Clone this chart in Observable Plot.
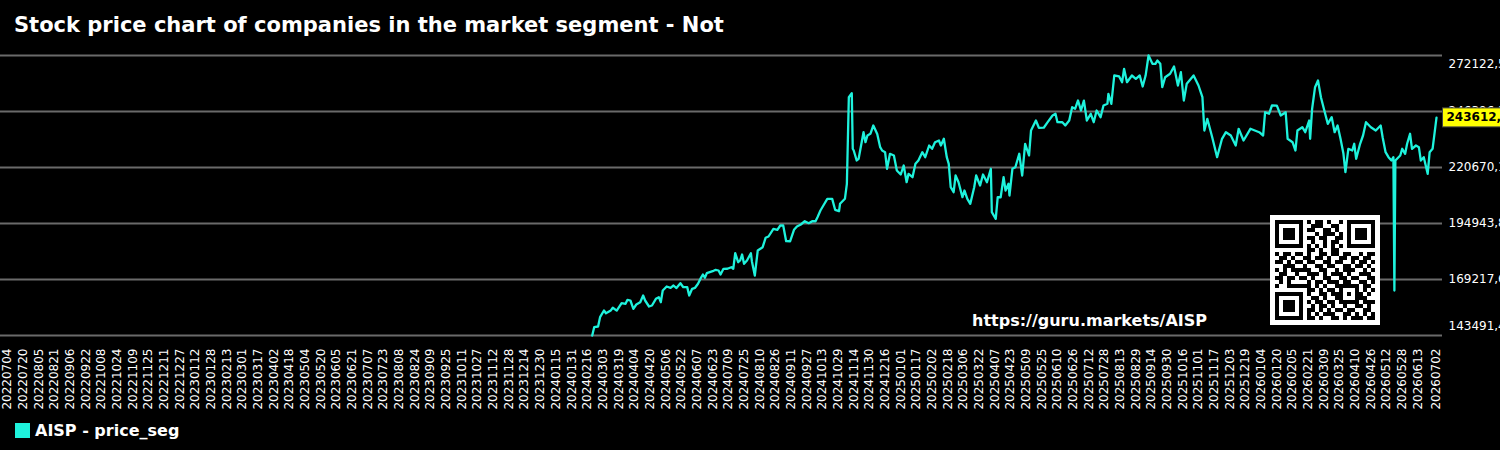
<!DOCTYPE html>
<html>
<head>
<meta charset="utf-8">
<script src="https://cdn.jsdelivr.net/npm/d3@7"></script>
<script src="https://cdn.jsdelivr.net/npm/@observablehq/plot@0.6"></script>
<style>
  html, body { margin: 0; padding: 0; background: #000; overflow: hidden; }
  #page { position: relative; width: 1500px; height: 450px; background: #000; color: #fff;
          font-family: "DejaVu Sans", sans-serif; }
  #title { position: absolute; left: 14px; top: 15px; font-size: 21px; line-height: 21px;
           font-weight: bold; white-space: nowrap; }
  #chart { position: absolute; left: 0; top: 40px; }
  #qr { position: absolute; left: 1270px; top: 215px; }
  #url { position: absolute; left: 972px; top: 312.5px; font-size: 16px; line-height: 16px;
         font-weight: bold; white-space: nowrap; }
  #legend { position: absolute; left: 15px; top: 422.5px; height: 16px; font-size: 16px; line-height: 16px;
            font-weight: bold; display: flex; align-items: center; white-space: nowrap; }
  #legend .swatch { width: 15px; height: 15px; margin-right: 5px; }
</style>
</head>
<body>
<div id="page">
  <div id="title"></div>
  <div id="chart"></div>
  <svg id="qr"></svg>
  <div id="url"></div>
  <div id="legend"><span class="swatch"></span><span class="name"></span></div>
</div>
<script>
// ---- chart text ----
const chartTitle = "Stock price chart of companies in the market segment - Not";
const seriesName = "AISP - price_seg";
const sourceUrl = "https://guru.markets/AISP";

// ---- time axis: labelled every 16 days from the first date, plus the final date ----
const axisStart = "2022-07-04";
const axisEnd = "2026-07-02";
const tickStepDays = 16;

// ---- closing prices ----
const dates = [
  "2024-02-21","2024-02-23","2024-02-27","2024-02-29","2024-03-04","2024-03-06","2024-03-11","2024-03-13","2024-03-17","2024-03-22",
  "2024-03-26","2024-03-28","2024-03-31","2024-04-03","2024-04-06","2024-04-10","2024-04-13","2024-04-15","2024-04-19","2024-04-22",
  "2024-04-26","2024-04-29","2024-05-01","2024-05-03","2024-05-07","2024-05-11","2024-05-14","2024-05-17","2024-05-21","2024-05-24",
  "2024-05-28","2024-05-30","2024-06-02","2024-06-05","2024-06-08","2024-06-11","2024-06-13","2024-06-15","2024-06-17","2024-06-23",
  "2024-06-26","2024-06-29","2024-07-01","2024-07-04","2024-07-08","2024-07-12","2024-07-14","2024-07-16","2024-07-19","2024-07-21",
  "2024-07-23","2024-07-25","2024-07-28","2024-08-01","2024-08-02","2024-08-05","2024-08-08","2024-08-13","2024-08-16","2024-08-19",
  "2024-08-24","2024-08-28","2024-08-31","2024-09-03","2024-09-06","2024-09-10","2024-09-14","2024-09-17","2024-09-21","2024-09-25",
  "2024-09-29","2024-10-03","2024-10-06","2024-10-08","2024-10-11","2024-10-14","2024-10-18","2024-10-23","2024-10-26","2024-10-30",
  "2024-10-31","2024-11-05","2024-11-07","2024-11-09","2024-11-12","2024-11-13","2024-11-14","2024-11-17","2024-11-19","2024-11-24",
  "2024-11-26","2024-11-28","2024-12-01","2024-12-04","2024-12-08","2024-12-11","2024-12-13","2024-12-16","2024-12-18","2024-12-21",
  "2024-12-25","2024-12-28","2025-01-01","2025-01-04","2025-01-07","2025-01-09","2025-01-13","2025-01-16","2025-01-19","2025-01-23",
  "2025-01-26","2025-01-30","2025-02-02","2025-02-05","2025-02-09","2025-02-11","2025-02-14","2025-02-17","2025-02-19","2025-02-21",
  "2025-02-24","2025-02-26","2025-03-01","2025-03-05","2025-03-07","2025-03-10","2025-03-13","2025-03-17","2025-03-19","2025-03-23",
  "2025-03-26","2025-03-30","2025-04-03","2025-04-04","2025-04-08","2025-04-10","2025-04-13","2025-04-16","2025-04-18","2025-04-21",
  "2025-04-22","2025-04-25","2025-04-28","2025-05-02","2025-05-05","2025-05-08","2025-05-12","2025-05-14","2025-05-19","2025-05-22",
  "2025-05-27","2025-05-31","2025-06-05","2025-06-08","2025-06-10","2025-06-15","2025-06-18","2025-06-22","2025-06-25","2025-06-28",
  "2025-07-01","2025-07-04","2025-07-07","2025-07-10","2025-07-14","2025-07-17","2025-07-20","2025-07-24","2025-07-27","2025-07-31",
  "2025-08-01","2025-08-04","2025-08-07","2025-08-12","2025-08-15","2025-08-17","2025-08-20","2025-08-25","2025-08-29","2025-09-02",
  "2025-09-05","2025-09-08","2025-09-11","2025-09-15","2025-09-18","2025-09-20","2025-09-23","2025-09-25","2025-09-28","2025-10-03",
  "2025-10-07","2025-10-11","2025-10-14","2025-10-17","2025-10-20","2025-10-27","2025-11-01","2025-11-05","2025-11-07","2025-11-10",
  "2025-11-15","2025-11-20","2025-11-25","2025-11-29","2025-12-04","2025-12-09","2025-12-12","2025-12-17","2025-12-24","2026-01-02",
  "2026-01-06","2026-01-08","2026-01-12","2026-01-15","2026-01-20","2026-01-24","2026-01-29","2026-01-31","2026-02-05","2026-02-08",
  "2026-02-10","2026-02-15","2026-02-18","2026-02-22","2026-02-23","2026-02-25","2026-02-28","2026-03-03","2026-03-06","2026-03-09",
  "2026-03-13","2026-03-17","2026-03-20","2026-03-23","2026-03-26","2026-03-29","2026-03-31","2026-04-03","2026-04-07","2026-04-09",
  "2026-04-11","2026-04-15","2026-04-18","2026-04-21","2026-04-26","2026-05-01","2026-05-06","2026-05-08","2026-05-11","2026-05-14",
  "2026-05-17","2026-05-19","2026-05-20","2026-05-21","2026-05-26","2026-05-28","2026-05-31","2026-06-02","2026-06-05","2026-06-07",
  "2026-06-11","2026-06-14","2026-06-16","2026-06-19","2026-06-23","2026-06-25","2026-06-28","2026-07-02"
];
const prices = [
  143491.4,147304,147626,151898,154976,153736,155010,156217,154930,158330,
  158054,159892,159570,155757,157733,158790,161867,159570,156814,157273,
  160351,161086,158790,164164,166002,165405,166461,165300,167518,165680,
  165720,161867,164945,165405,167242,169998,171515,170050,172112,173031,
  173674,173352,171515,174133,174160,174868,174133,181300,177165,177946,
  180703,176430,177946,181300,177625,171055,182540,184056,188375,188972,
  192509,192050,194025,194060,186813,186780,192050,193566,194485,196001,
  195082,196040,195980,197838,200916,203213,206291,206250,201238,200595,
  203994,206291,213182,252966,254804,229261,228480,223886,224667,236887,
  232293,235371,236152,239965,236100,229996,228480,227699,220073,226964,
  226183,219292,217455,221589,213917,217776,216214,222370,223886,227699,
  225402,230777,229261,232293,233074,230777,233855,225402,222370,211620,
  209323,216995,213917,207026,210104,206291,203994,211620,216995,212401,
  217455,213917,220073,200135,197103,207026,207000,216214,210104,213182,
  207807,220073,220808,226964,216995,231558,226183,237668,242262,238909,
  238950,241481,244559,245340,241481,241450,239965,242262,248372,247637,
  251450,246856,251420,242262,245340,241481,246856,243778,249153,249934,
  254528,249934,262935,262476,259857,266013,259857,262935,261420,262935,
  257882,262900,272122.5,268310,268260,269826,268310,257560,262154,263716,
  267070,258341,264451,251450,259122,262935,258341,252966,237668,243043,
  234590,225402,233855,236887,235371,230777,238449,233074,238449,236887,
  235371,246074,245340,249153,249100,244559,246074,233855,232293,228480,
  237668,239184,236887,242262,233855,247637,257560,260638,252966,247637,
  240746,243778,236887,239965,233855,226964,218511,229261,228480,231558,
  224667,231558,235371,241481,239184,237668,239965,234590,227699,225402,
  223886,225402,164164,223886,226183,229261,226964,231558,236152,229261,
  230777,229996,223886,225402,217776,227699,229261,243612.4
];

// ---- colours ----
const lineColor = "#1ef2dc";
const gridColor = "#6a6a6a";
const highlightColor = "#ffff00";

// ---- QR code modules (1 = dark) ----
const qrRows = [
  "1111111010110100101111111",
  "1000001001110011001000001",
  "1011101011001101001011101",
  "1011101000101110101011101",
  "1011101011011001101011101",
  "1000001001001011001000001",
  "1111111010101010101111111",
  "0000000011010011000000000",
  "1011011010011011011001011",
  "0110100110110100110110110",
  "1101011011001101100101101",
  "0011100100110110011011010",
  "1010111110011001011100101",
  "0110010011101011101001110",
  "1101101101001100110110011",
  "0101000010110111011001101",
  "1001111110101001111110110",
  "0000000011010110100010101",
  "1111111010011011101011010",
  "1000001001101001101101100",
  "1011101010110110111110111",
  "1011101001011010010011010",
  "1011101011010101101100110",
  "1000001010101110011010101",
  "1111111011010011010111011"
];

// ---- text blocks ----
document.getElementById("title").textContent = chartTitle;
document.getElementById("url").textContent = sourceUrl;
document.querySelector("#legend .name").textContent = seriesName;
document.querySelector("#legend .swatch").style.background = lineColor;

// ---- data ----
const parseDate = d3.utcParse("%Y-%m-%d");
const series = dates.map((d, i) => ({date: parseDate(d), price: prices[i]}));
const last = series[series.length - 1];

const [yMin, yMax] = d3.extent(prices);
const yTicks = d3.range(6).map(i => yMin + i * (yMax - yMin) / 5);
const fmtPrice = v => v.toFixed(1).replace(".", ",");

const start = parseDate(axisStart);
const end = parseDate(axisEnd);
const totalDays = d3.utcDay.count(start, end);
const xTicks = d3.range(0, totalDays - tickStepDays + 1, tickStepDays).map(k => d3.utcDay.offset(start, k));
xTicks.push(end);

const yLabel = {
  y: d => d, text: fmtPrice, frameAnchor: "right", textAnchor: "start",
  dx: 6, fill: "#ffffff", fontSize: 12
};

const chart = Plot.plot({
  width: 1500,
  height: 375,
  marginTop: 15,
  marginBottom: 80,
  marginLeft: 0,
  marginRight: 58,
  style: {background: "transparent", color: "#fff", fontFamily: "DejaVu Sans, sans-serif", fontSize: "12px", overflow: "visible"},
  x: {type: "utc", domain: [start, end], insetLeft: 7, insetRight: 6, axis: null, label: null},
  y: {domain: [yMin, yMax], axis: null, label: null},
  marks: [
    Plot.ruleY(yTicks, {stroke: gridColor, strokeWidth: 2}),
    Plot.axisX(xTicks, {
      tickRotate: -90, tickSize: 0, tickPadding: 13, label: null,
      tickFormat: d3.utcFormat("%Y%m%d"), fontSize: 12, fill: "#ffffff"
    }),
    Plot.text(yTicks.slice(1, -1), yLabel),
    Plot.text([yMax], {...yLabel, dy: 9}),
    Plot.text([yMin], {...yLabel, dy: -9}),
    Plot.line(series, {x: "date", y: "price", stroke: lineColor, strokeWidth: 2.3}),
    Plot.text([last], {
      y: "price", text: d => fmtPrice(d.price), frameAnchor: "right", textAnchor: "start",
      dx: 4, fill: "#000000", fontWeight: "bold", fontSize: 12
    })
  ]
});
document.getElementById("chart").append(chart);

// yellow tag behind the latest price
const lastLabel = fmtPrice(last.price);
const lastText = Array.from(chart.querySelectorAll("text"))
  .find(t => t.textContent === lastLabel);
if (lastText) {
  const b = lastText.getBBox();
  const tag = document.createElementNS("http://www.w3.org/2000/svg", "rect");
  tag.setAttribute("x", b.x - 4);
  tag.setAttribute("y", b.y + b.height / 2 - 9.5);
  tag.setAttribute("width", b.width + 12);
  tag.setAttribute("height", 19);
  tag.setAttribute("fill", highlightColor);
  tag.setAttribute("stroke", "#444");
  tag.setAttribute("stroke-width", 1);
  const tf = lastText.getAttribute("transform");
  if (tf) tag.setAttribute("transform", tf);
  lastText.parentNode.insertBefore(tag, lastText);
}

// ---- QR code ----
const qrN = qrRows.length, qrCell = 4, qrPad = 5;
const qrPx = qrN * qrCell + 2 * qrPad;
const qr = qrRows.map(r => Array.from({length: qrN}, (_, c) => r[c] === "1"));
// finder patterns with separators
for (const [r0, c0] of [[0, 0], [0, qrN - 7], [qrN - 7, 0]]) {
  for (let r = -1; r <= 7; r++) for (let c = -1; c <= 7; c++) {
    const rr = r0 + r, cc = c0 + c;
    if (rr < 0 || cc < 0 || rr >= qrN || cc >= qrN) continue;
    const inside = r >= 0 && r <= 6 && c >= 0 && c <= 6;
    qr[rr][cc] = inside && (r === 0 || r === 6 || c === 0 || c === 6 || (r >= 2 && r <= 4 && c >= 2 && c <= 4));
  }
}
// timing patterns
for (let i = 8; i < qrN - 8; i++) { qr[6][i] = i % 2 === 0; qr[i][6] = i % 2 === 0; }
// alignment pattern
for (let r = 16; r <= 20; r++) for (let c = 16; c <= 20; c++) {
  qr[r][c] = Math.max(Math.abs(r - 18), Math.abs(c - 18)) !== 1;
}
const qrSvg = d3.select("#qr").attr("width", qrPx).attr("height", qrPx);
qrSvg.append("rect").attr("width", qrPx).attr("height", qrPx).attr("fill", "#fff");
const cells = [];
qr.forEach((row, r) => row.forEach((on, c) => { if (on) cells.push([r, c]); }));
qrSvg.selectAll("rect.m").data(cells).join("rect")
  .attr("class", "m")
  .attr("x", d => qrPad + d[1] * qrCell)
  .attr("y", d => qrPad + d[0] * qrCell)
  .attr("width", qrCell).attr("height", qrCell)
  .attr("fill", "#000")
  .attr("shape-rendering", "crispEdges");
</script>
</body>
</html>
